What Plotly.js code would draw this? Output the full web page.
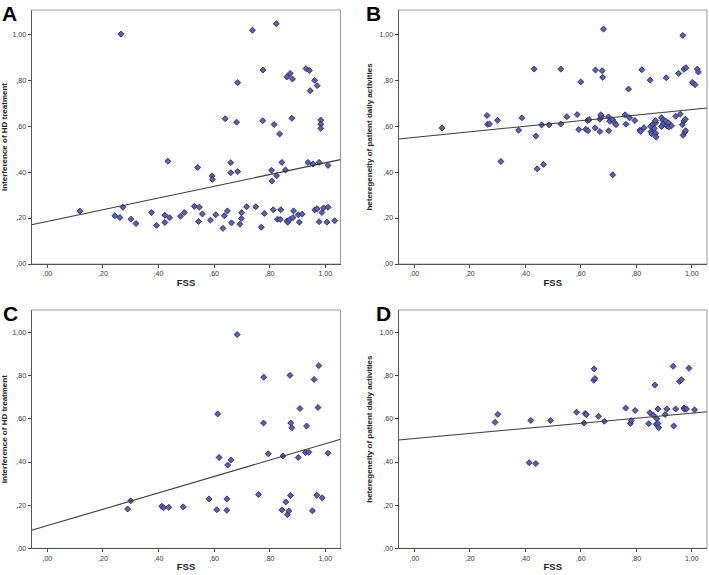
<!DOCTYPE html>
<html><head><meta charset="utf-8">
<script src="https://cdn.plot.ly/plotly-3.0.1.min.js"></script>
<style>html,body{margin:0;padding:0;background:#fff}#chart{width:709px;height:575px}</style>
</head><body><div id="chart"></div>
<script>
// Panel A: FSS vs interference of HD treatment
const aX = [0.117,0.243,0.261,0.272,0.265,0.301,0.319,0.375,0.393,0.423,0.423,0.440,0.434,0.479,0.493,0.529,0.547,0.541,0.544,0.558,0.587,0.593,0.594,0.606,0.632,0.637,0.648,0.640,0.660,0.660,0.663,0.681,0.685,0.685,0.693,0.699,0.698,0.717,0.738,0.750,0.770,0.776,0.775,0.781,0.807,0.808,0.813,0.816,0.824,0.825,0.828,0.836,0.840,0.838,0.844,0.857,0.862,0.863,0.865,0.874,0.873,0.882,0.880,0.884,0.886,0.903,0.907,0.917,0.931,0.943,0.938,0.946,0.956,0.962,0.963,0.971,0.971,0.978,0.978,0.984,0.984,0.984,0.988,0.994,1.010,1.010,1.006,1.034];
const aY = [0.230,0.210,0.202,0.247,1.000,0.195,0.176,0.224,0.168,0.212,0.181,0.201,0.447,0.208,0.224,0.251,0.247,0.420,0.185,0.218,0.191,0.383,0.368,0.214,0.155,0.210,0.231,0.632,0.441,0.397,0.179,0.617,0.789,0.402,0.173,0.223,0.198,0.249,1.017,0.249,0.160,0.844,0.623,0.220,0.408,0.361,0.236,0.607,1.045,0.384,0.195,0.566,0.236,0.194,0.442,0.409,0.814,0.188,0.182,0.829,0.194,0.805,0.634,0.202,0.231,0.214,0.182,0.217,0.850,0.842,0.442,0.754,0.435,0.799,0.236,0.240,0.776,0.442,0.184,0.626,0.608,0.590,0.224,0.244,0.429,0.247,0.182,0.188];
// Panel B: FSS vs heteregeneity of patient daily activities
const bX = [0.100,0.262,0.264,0.271,0.300,0.312,0.376,0.388,0.432,0.438,0.443,0.459,0.466,0.486,0.528,0.528,0.550,0.587,0.593,0.600,0.618,0.624,0.626,0.630,0.653,0.652,0.669,0.669,0.675,0.677,0.679,0.682,0.672,0.701,0.700,0.705,0.715,0.715,0.721,0.727,0.760,0.763,0.772,0.776,0.795,0.813,0.816,0.820,0.828,0.850,0.852,0.853,0.856,0.860,0.865,0.870,0.870,0.872,0.869,0.891,0.891,0.896,0.898,0.908,0.906,0.910,0.916,0.917,0.927,0.942,0.953,0.959,0.968,0.966,0.969,0.972,0.972,0.975,0.977,0.978,0.979,1.002,1.012,1.020,1.024];
const bY = [0.592,0.646,0.608,0.609,0.625,0.446,0.582,0.636,0.848,0.557,0.414,0.605,0.433,0.605,0.848,0.609,0.641,0.650,0.585,0.792,0.586,0.624,0.580,0.628,0.844,0.592,0.630,0.576,0.641,0.841,0.812,1.022,0.649,0.580,0.640,0.621,0.388,0.627,0.615,0.606,0.649,0.608,0.761,0.636,0.624,0.582,0.577,0.845,0.593,0.800,0.599,0.576,0.566,0.608,0.590,0.614,0.569,0.552,0.624,0.636,0.598,0.625,0.612,0.810,0.622,0.601,0.614,0.596,0.601,0.643,0.829,0.652,0.994,0.606,0.560,0.847,0.622,0.573,0.630,0.580,0.854,0.790,0.780,0.848,0.835];
// Panel C
const cX = [0.289,0.300,0.412,0.418,0.437,0.489,0.582,0.610,0.613,0.618,0.646,0.646,0.649,0.661,0.683,0.760,0.779,0.778,0.795,0.844,0.848,0.858,0.864,0.869,0.873,0.876,0.875,0.880,0.903,0.909,0.929,0.933,0.941,0.954,0.960,0.970,0.974,0.977,0.989,1.010];
const cY = [0.182,0.220,0.195,0.188,0.190,0.192,0.229,0.179,0.623,0.421,0.229,0.176,0.386,0.410,0.991,0.249,0.793,0.581,0.438,0.178,0.428,0.215,0.156,0.173,0.802,0.581,0.245,0.559,0.421,0.648,0.444,0.567,0.445,0.174,0.783,0.246,0.653,0.847,0.234,0.441];
// Panel D
const dX = [0.291,0.301,0.414,0.420,0.438,0.491,0.585,0.612,0.616,0.620,0.648,0.647,0.651,0.664,0.685,0.762,0.779,0.782,0.796,0.845,0.849,0.862,0.867,0.872,0.874,0.878,0.878,0.881,0.904,0.910,0.933,0.935,0.942,0.956,0.963,0.972,0.974,0.981,0.990,1.010];
const dY = [0.584,0.621,0.397,0.593,0.393,0.593,0.631,0.581,0.625,0.620,0.832,0.779,0.787,0.612,0.589,0.650,0.579,0.592,0.639,0.578,0.629,0.617,0.757,0.575,0.601,0.646,0.579,0.559,0.620,0.646,0.844,0.567,0.646,0.774,0.782,0.651,0.645,0.646,0.835,0.642];
// Fit lines: [intercept, slope]
const fitA = [0.185, 0.255];
const fitB = [0.551, 0.121];
const fitC = [0.105, 0.380];
const fitD = [0.509, 0.118];
const panelLetters = ['A','B','C','D'];
const yTitles = ['interference of HD treatment','heteregeneity of patient daily activities','interference of HD treatment','heteregeneity of patient daily activities'];
const xTitle = 'FSS';
const tickVals = [0,0.2,0.4,0.6,0.8,1.0];
const tickText = [',00',',20',',40',',60',',80','1,00'];

const xRange = [-0.057, 1.055];
const yRange = [0, 1.105];
const W = 709, H = 575;
const panels = [
  {x:aX, y:aY, fit:fitA, xd:[31.5,340.5], yd:[10,264]},
  {x:bX, y:bY, fit:fitB, xd:[398.5,707], yd:[10,264]},
  {x:cX, y:cY, fit:fitC, xd:[31.5,340.5], yd:[310,548.3]},
  {x:dX, y:dY, fit:fitD, xd:[398.5,707], yd:[310,548.3]}
];
const data = [], layout = {width:W, height:H, margin:{l:0,r:0,t:0,b:0}, showlegend:false,
  paper_bgcolor:'#fff', plot_bgcolor:'#fff', font:{family:'Liberation Sans, Arial, sans-serif'}, shapes:[], annotations:[]};
const letterPos = [[0,0],[364,0],[1,300],[374,300]];
panels.forEach((p,i)=>{
  const s = i===0 ? '' : String(i+1);
  data.push({type:'scatter', mode:'markers', x:p.x, y:p.y, xaxis:'x'+s, yaxis:'y'+s,
    marker:{symbol:'diamond', size:4.6, color:'#5d60b0', line:{color:'#23256b', width:0.9}}, hoverinfo:'x+y'});
  data.push({type:'scatter', mode:'lines', x:xRange, y:xRange.map(v=>p.fit[0]+p.fit[1]*v), xaxis:'x'+s, yaxis:'y'+s,
    line:{color:'#3a3a3a', width:1.1}, hoverinfo:'skip'});
  const axCommon = {showgrid:false, zeroline:false, showline:true, linecolor:'#555', linewidth:1,
    ticks:'outside', ticklen:3, tickwidth:1, tickcolor:'#444', tickvals:tickVals, ticktext:tickText,
    tickfont:{size:7, color:'#333'}, automargin:false, fixedrange:true};
  layout['xaxis'+s] = Object.assign({}, axCommon, {domain:[p.xd[0]/W, p.xd[1]/W], range:xRange, anchor:'y'+s,
    title:{text:'<b>'+xTitle+'</b>', font:{size:9.5, color:'#222'}, standoff:2}});
  layout['yaxis'+s] = Object.assign({}, axCommon, {domain:[1-p.yd[1]/H, 1-p.yd[0]/H], range:yRange, anchor:'x'+s,
    title:{text:'<b>'+yTitles[i]+'</b>', font:{size:8, color:'#222'}, standoff:5}});
  layout.shapes.push({type:'rect', xref:'x'+s+' domain', yref:'y'+s+' domain', x0:0, x1:1, y0:0, y1:1,
    line:{color:'#9a9a9a', width:1}, layer:'below'});
  layout.annotations.push({text:'<b>'+panelLetters[i]+'</b>', xref:'paper', yref:'paper', x:letterPos[i][0]/W,
    y:1-letterPos[i][1]/H, xanchor:'left', yanchor:'top', showarrow:false, font:{size:21, color:'#000'}});
});
Plotly.newPlot('chart', data, layout, {staticPlot:true});
</script></body></html>
